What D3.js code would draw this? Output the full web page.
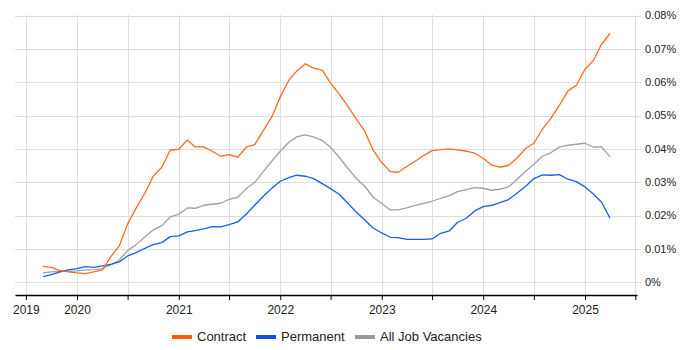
<!DOCTYPE html>
<html>
<head>
<meta charset="utf-8">
<script src="https://cdn.jsdelivr.net/npm/d3@7"></script>
<style>
    body { margin: 0; background: #fff; }
    text { font-family: Arial, "Liberation Sans", sans-serif; }
</style>
</head>
<body>
<div id="container"></div>
<script>
// monthly series, Sep 2019 .. Apr 2025, values in percent
var startYear = 2019, startMonth = 8;

var contract = [0.0048, 0.0045, 0.0035, 0.0031, 0.0028, 0.0026, 0.0031, 0.0037, 0.0076, 0.0109,
    0.0175, 0.0223, 0.0267, 0.0318, 0.0345, 0.0396, 0.0399, 0.0427, 0.0406, 0.0406,
    0.0393, 0.0378, 0.0383, 0.0375, 0.0405, 0.0413, 0.0455, 0.0495, 0.0556, 0.0606,
    0.0633, 0.0655, 0.0642, 0.0636, 0.0597, 0.0564, 0.0528, 0.0490, 0.0453, 0.0396,
    0.0359, 0.0332, 0.0330, 0.0347, 0.0363, 0.0380, 0.0395, 0.0398, 0.0400, 0.0397,
    0.0393, 0.0387, 0.0372, 0.0351, 0.0345, 0.0351, 0.0372, 0.0401, 0.0417, 0.0459,
    0.0492, 0.0531, 0.0574, 0.0591, 0.0639, 0.0666, 0.0713, 0.0746];

var permanent = [0.0017, 0.0023, 0.0031, 0.0037, 0.0041, 0.0047, 0.0045, 0.0049, 0.0054, 0.0061,
    0.0079, 0.0089, 0.0102, 0.0113, 0.0119, 0.0137, 0.0139, 0.0151, 0.0155, 0.0160,
    0.0167, 0.0166, 0.0173, 0.0181, 0.0205, 0.0231, 0.0258, 0.0281, 0.0303, 0.0314,
    0.0321, 0.0318, 0.0311, 0.0296, 0.0281, 0.0264, 0.0237, 0.0211, 0.0187, 0.0163,
    0.0148, 0.0135, 0.0134, 0.0129, 0.0129, 0.0129, 0.0130, 0.0147, 0.0154, 0.0180,
    0.0192, 0.0214, 0.0227, 0.0231, 0.0239, 0.0248, 0.0267, 0.0287, 0.0311, 0.0322,
    0.0321, 0.0323, 0.0309, 0.0302, 0.0286, 0.0264, 0.0241, 0.0192];

var allJobs = [0.0028, 0.0031, 0.0033, 0.0033, 0.0034, 0.0037, 0.0038, 0.0041, 0.0052, 0.0067,
    0.0095, 0.0113, 0.0136, 0.0157, 0.0170, 0.0196, 0.0204, 0.0223, 0.0222, 0.0231,
    0.0234, 0.0237, 0.0249, 0.0255, 0.0281, 0.0299, 0.0332, 0.0363, 0.0393, 0.0420,
    0.0436, 0.0442, 0.0436, 0.0425, 0.0405, 0.0375, 0.0342, 0.0312, 0.0288, 0.0255,
    0.0236, 0.0217, 0.0217, 0.0223, 0.0231, 0.0237, 0.0243, 0.0252, 0.0260, 0.0272,
    0.0278, 0.0284, 0.0282, 0.0276, 0.0279, 0.0286, 0.0308, 0.0333, 0.0354, 0.0378,
    0.0389, 0.0406, 0.0411, 0.0414, 0.0417, 0.0405, 0.0407, 0.0376];

var seriesNames = ["Contract", "Permanent", "All Job Vacancies"];
var seriesColors = ["#ff6a1f", "#1a5fe0", "#a0a0a0"];
var legendColors = ["#ff5a0a", "#0a55e6", "#999999"];

// x ticks every half year; only some carry a label
var xTickDates = ["2019-07", "2020-01", "2020-07", "2021-01", "2021-07", "2022-01", "2022-07",
    "2023-01", "2023-07", "2024-01", "2024-07", "2025-01", "2025-07"];
var xTickLabels = ["2019", "2020", "", "2021", "", "2022", "", "2023", "", "2024", "", "2025", ""];

var yTicks = [0, 0.01, 0.02, 0.03, 0.04, 0.05, 0.06, 0.07, 0.08];

var svgWidth = 700, svgHeight = 350;
var plot = { left: 15, right: 637, top: 15, bottom: 295 };

var svg = d3.select("div#container")
    .append("svg")
    .attr("width", svgWidth)
    .attr("height", svgHeight);

var parseMonth = d3.timeParse("%Y-%m");

// X scale: anchored on Jan 2020 / Jan 2025, then stretched to the plot edges
var x = d3.scaleTime()
    .domain([new Date(2020, 0, 1), new Date(2025, 0, 1)])
    .range([77, 585]);
x.domain([x.invert(plot.left), x.invert(plot.right)]).range([plot.left, plot.right]);

// Y scale: 0 sits a bit above the axis line
var y = d3.scaleLinear()
    .domain([0, 0.08])
    .range([282.3, 15.5]);

var dates = contract.map(function (d, i) { return new Date(startYear, startMonth + i, 1); });

// grid
svg.append("g")
    .selectAll("line")
    .data(yTicks)
    .enter()
    .append("line")
    .attr("x1", plot.left)
    .attr("x2", plot.right + 4)
    .attr("y1", function (d) { return Math.round(y(d)) + 0.5; })
    .attr("y2", function (d) { return Math.round(y(d)) + 0.5; })
    .attr("stroke", "#dddddd");

svg.append("g")
    .selectAll("line")
    .data(xTickDates)
    .enter()
    .append("line")
    .attr("x1", function (d) { return Math.round(x(parseMonth(d))) + 0.5; })
    .attr("x2", function (d) { return Math.round(x(parseMonth(d))) + 0.5; })
    .attr("y1", plot.top)
    .attr("y2", plot.bottom)
    .attr("stroke", "#dddddd");

// bottom axis
var xAxis = d3.axisBottom(x)
    .tickValues(xTickDates.map(parseMonth))
    .tickFormat(function (d, i) { return xTickLabels[i]; })
    .tickSizeInner(5)
    .tickSizeOuter(0);

var gx = svg.append("g")
    .attr("transform", "translate(0," + plot.bottom + ")")
    .call(xAxis);
gx.select(".domain").attr("stroke", "#000").attr("stroke-width", 1.5);
gx.selectAll(".tick line").attr("stroke", "#000");
gx.selectAll(".tick text")
    .attr("fill", "#222")
    .attr("dy", "0.9em")
    .style("font-size", "12px")
    .style("font-family", "Arial, 'Liberation Sans', sans-serif");

// right labels
svg.append("g")
    .selectAll("text")
    .data(yTicks)
    .enter()
    .append("text")
    .attr("x", 645)
    .attr("y", function (d) { return y(d); })
    .attr("dy", "0.35em")
    .attr("fill", "#222")
    .style("font-size", "11px")
    .text(function (d) { return d === 0 ? "0%" : d.toFixed(2) + "%"; });

// lines, drawn grey first so orange stays on top
var line = d3.line()
    .x(function (d, i) { return x(dates[i]); })
    .y(function (d) { return y(d); });

var allSeries = [contract, permanent, allJobs];
[2, 1, 0].forEach(function (k) {
    svg.append("path")
        .datum(allSeries[k])
        .attr("d", line)
        .attr("fill", "none")
        .attr("stroke", seriesColors[k])
        .attr("stroke-width", 1.3)
        .attr("stroke-linejoin", "round");
});

// legend
var legendX = [172, 256, 355];
var legend = svg.append("g");
seriesNames.forEach(function (name, i) {
    legend.append("rect")
        .attr("x", legendX[i])
        .attr("y", 335)
        .attr("width", 20)
        .attr("height", 4)
        .attr("fill", legendColors[i]);
    legend.append("text")
        .attr("x", legendX[i] + 25)
        .attr("y", 341)
        .attr("fill", "#222")
        .style("font-size", "13px")
        .text(name);
});
</script>
</body>
</html>
